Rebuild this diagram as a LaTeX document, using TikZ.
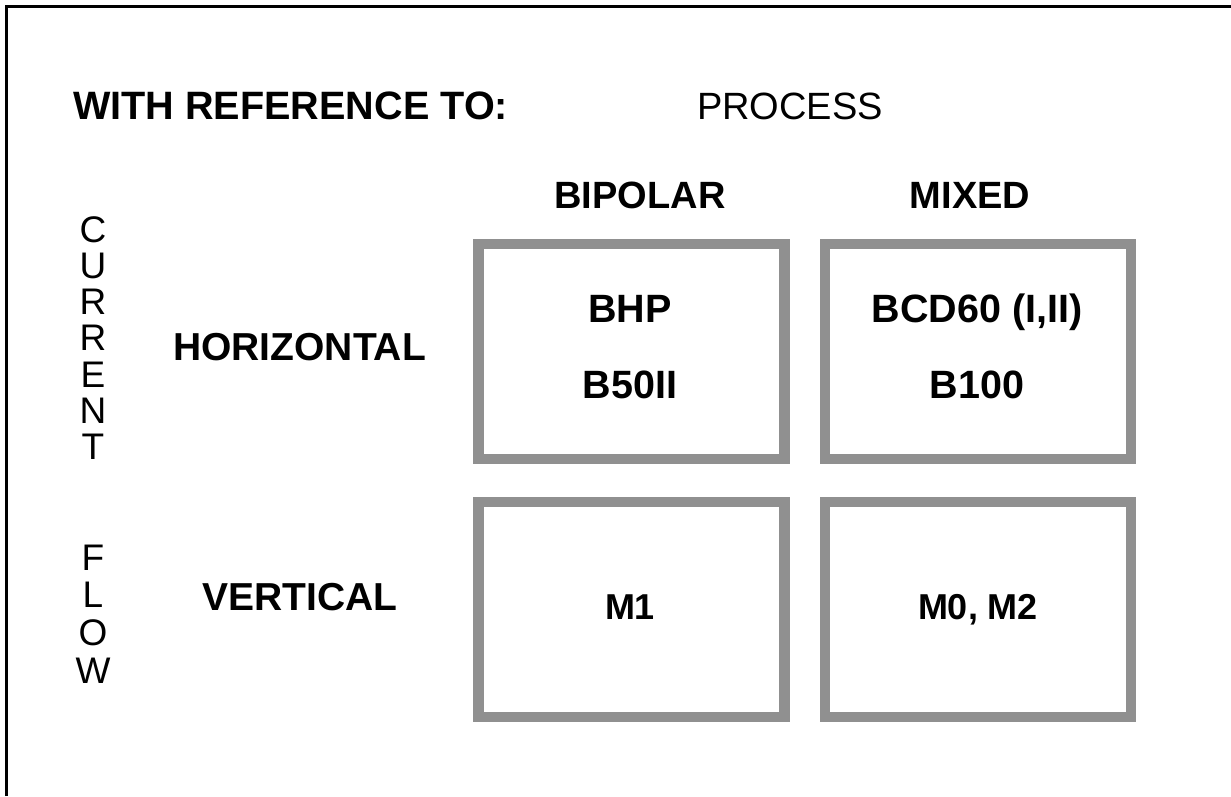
\documentclass[tikz,border=0pt]{standalone}
\usepackage{fontspec}
\setmainfont{Liberation Sans}
\definecolor{boxgray}{HTML}{909090}
\tikzset{
  framebox/.style={draw=boxgray, line width=10.5pt, minimum width=306pt, minimum height=215pt, inner sep=0pt},
  titlebold/.style={font=\fontsize{39.6}{44}\selectfont\bfseries, anchor=base, inner sep=0pt},
  bigbold/.style={font=\fontsize{38}{44}\selectfont\bfseries, anchor=base, inner sep=0pt},
  rowbold/.style={font=\fontsize{39}{44}\selectfont\bfseries, anchor=base, inner sep=0pt},
  bigreg/.style={font=\fontsize{38}{44}\selectfont, anchor=base, inner sep=0pt},
  boxtxt/.style={font=\fontsize{39.5}{44}\selectfont\bfseries, anchor=base, inner sep=0pt},
  mtxt/.style={font=\fontsize{36}{40}\selectfont\bfseries, anchor=base, inner sep=0pt},
  vlet/.style={font=\fontsize{37}{40}\selectfont, anchor=base, inner sep=0pt},
  frameline/.style={line width=3pt, black}
}
\begin{document}
\begin{tikzpicture}[x=1pt,y=-1pt]
\useasboundingbox (0,0) rectangle (1231,796);
% outer frame (top and left)
\coordinate (fbl) at (6,796);
\coordinate (fc) at (6,6);
\coordinate (ftr) at (1231,6);
\draw[frameline] (fbl) -- (fc) -- (ftr);
% title
\node[titlebold, anchor=base west] (title) at (73,119) {WITH REFERENCE TO:};
\node[bigreg, anchor=base west] (proc) at (697,119) {PROCESS};
% column heads
\node[bigbold] (bip) at (640,208) {BIPOLAR};
\node[bigbold] (mix) at (970,208) {MIXED};
% row heads
\node[rowbold, anchor=base west] (hor) at (173,360) {HORIZONTAL};
\node[rowbold, anchor=base west] (ver) at (202,610) {VERTICAL};
% vertical labels
\foreach \l [count=\i from 0] in {C,U,R,R,E,N,T}
  \node[vlet] (cur\i) at (93,{242+36.3*\i}) {\l};
\foreach \l [count=\i from 0] in {F,L,O,W}
  \node[vlet] (flw\i) at (93,{570+37.7*\i}) {\l};
% boxes
\node[framebox] (b1) at (631.5,351.5) {};
\node[framebox] (b2) at (978,351.5) {};
\node[framebox] (b3) at (631.5,609.5) {};
\node[framebox] (b4) at (978,609.5) {};
% box texts
\node[boxtxt] (t1a) at (630,322) {BHP};
\node[boxtxt] (t1b) at (630,398) {B50II};
\node[boxtxt] (t2a) at (977,322) {BCD60 (I,II)};
\node[boxtxt] (t2b) at (977,398) {B100};
\node[mtxt] (t3) at (630,619) {M1};
\node[mtxt] (t4) at (978,619) {M0, M2};
\end{tikzpicture}
\end{document}
